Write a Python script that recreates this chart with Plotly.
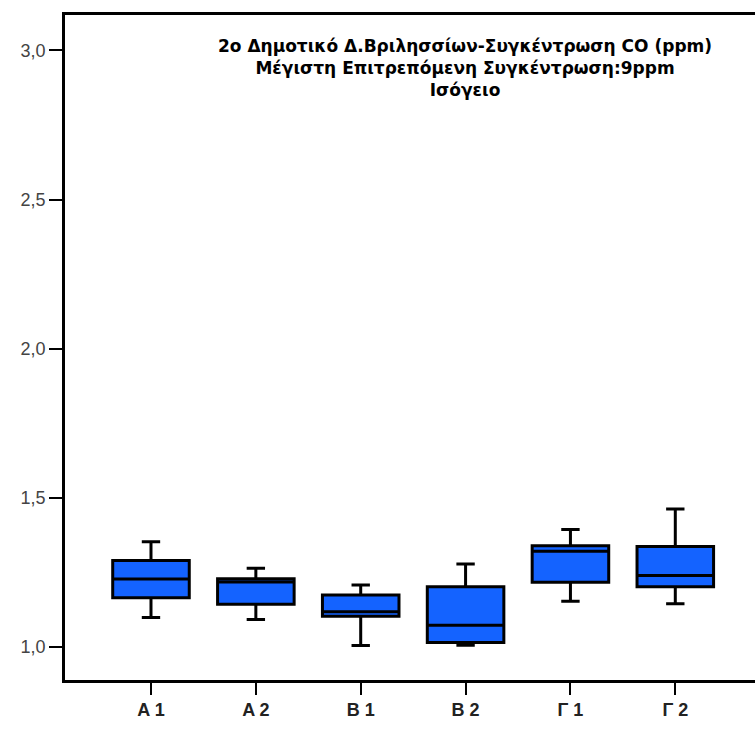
import plotly.graph_objects as go

# Classroom sampling points
categories = ["A 1", "A 2", "B 1", "B 2", "Γ 1", "Γ 2"]

# CO concentration summary statistics (ppm)
lower_whisker = [1.098, 1.091, 1.004, 1.005, 1.152, 1.144]
q1_values = [1.164, 1.142, 1.102, 1.014, 1.216, 1.201]
medians = [1.227, 1.217, 1.117, 1.072, 1.320, 1.239]
q3_values = [1.289, 1.228, 1.173, 1.201, 1.338, 1.336]
upper_whisker = [1.352, 1.263, 1.207, 1.277, 1.393, 1.462]

y_ticks = [1.0, 1.5, 2.0, 2.5, 3.0]
y_tick_text = ["1,0", "1,5", "2,0", "2,5", "3,0"]

title_lines = [
    "2ο Δημοτικό Δ.Βριλησσίων-Συγκέντρωση CO (ppm)",
    "Μέγιστη Επιτρεπόμενη Συγκέντρωση:9ppm",
    "Ισόγειο",
]

fig = go.Figure()
fig.add_trace(go.Box(
    x=categories,
    q1=q1_values,
    median=medians,
    q3=q3_values,
    lowerfence=lower_whisker,
    upperfence=upper_whisker,
    fillcolor="#1463ff",
    line=dict(color="black", width=3),
    width=0.73,
    whiskerwidth=0.24,
    boxpoints=False,
    hoverinfo="skip",
    showlegend=False,
))

# Three-line title block inside the plot area
fig.add_annotation(
    x=2.99, y=3.055, xref="x", yref="y",
    text="<br>".join("<b>%s</b>" % t for t in title_lines),
    showarrow=False, align="center",
    font=dict(family="DejaVu Sans", size=17, color="black"),
    xanchor="center", yanchor="top",
)

fig.update_layout(
    width=755, height=729,
    margin=dict(l=65, r=0, t=15, b=49),
    paper_bgcolor="white",
    plot_bgcolor="white",
    font=dict(family="Liberation Sans, Arial", color="#222222"),
)
fig.update_xaxes(
    type="category",
    range=[-0.82, 5.76],
    showline=True, linecolor="black", linewidth=2.5,
    mirror=True,
    ticks="outside", ticklen=12, tickwidth=2, tickcolor="black",
    tickvals=categories,
    ticktext=["<b>%s</b>" % c for c in categories],
    tickfont=dict(size=18, color="#222222"),
    showgrid=False, zeroline=False,
)
fig.update_yaxes(
    range=[0.888, 3.119],
    showline=True, linecolor="black", linewidth=2.5,
    ticks="outside", ticklen=13, tickwidth=2, tickcolor="black",
    tickvals=y_ticks, ticktext=y_tick_text,
    tickfont=dict(size=18, color="#444444"),
    showgrid=False, zeroline=False,
)

fig.write_html("out.html")
